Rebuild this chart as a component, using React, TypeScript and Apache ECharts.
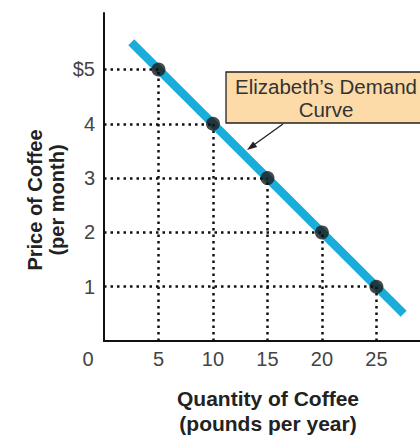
import React, { useEffect, useRef } from "react";
import * as echarts from "echarts";

const quantities = [5, 10, 15, 20, 25];
const prices = [5, 4, 3, 2, 1];
const curveQ = [2.5, 27.5];
const curveP = [5.5, 0.5];
const xTickLabels: Record<number, string> = { 0: "{z|0}", 5: "5", 10: "10", 15: "15", 20: "20", 25: "25" };
const yTickLabels: Record<number, string> = { 1: "1", 2: "2", 3: "3", 4: "4", 5: "$5" };
const xTitle = "Quantity of Coffee\n(pounds per year)";
const yTitle = "Price of Coffee\n(per month)";
const calloutText = "Elizabeth\u2019s Demand\nCurve";

const FONT = '"Liberation Sans", Arial, Helvetica, sans-serif';
const BLUE = "#1AADDA";

export default function App() {
  const ref = useRef<HTMLDivElement>(null);
  useEffect(() => {
    if (!ref.current) return;
    const chart = echarts.init(ref.current, undefined, { renderer: "svg" });
    const guides: any[] = [];
    quantities.forEach((q, i) => {
      const p = prices[i];
      guides.push([{ coord: [0, p] }, { coord: [q, p] }]);
      guides.push([{ coord: [q, 0] }, { coord: [q, p] }]);
    });
    chart.setOption({
      animation: false,
      backgroundColor: "#ffffff",
      grid: { left: 104, right: 0, top: 13, bottom: 94, containLabel: false },
      xAxis: {
        type: "value",
        min: 0,
        max: 29,
        interval: 5,
        axisLine: { show: true, lineStyle: { color: "#111", width: 2 } },
        axisTick: { show: false },
        splitLine: { show: false },
        axisLabel: {
          margin: 8,
          fontSize: 20,
          fontFamily: FONT,
          color: "#444",
          showMaxLabel: false,
          formatter: (v: number) => xTickLabels[v] ?? "",
          rich: { z: { fontSize: 20, fontFamily: FONT, color: "#444", padding: [0, 32, 0, 0] } },
        },
      },
      yAxis: {
        type: "value",
        min: 0,
        max: 6.04,
        interval: 1,
        axisLine: { show: true, lineStyle: { color: "#111", width: 2 } },
        axisTick: { show: false },
        splitLine: { show: false },
        axisLabel: {
          margin: 9,
          fontSize: 20,
          fontFamily: FONT,
          color: "#444",
          showMaxLabel: false,
          formatter: (v: number) => yTickLabels[v] ?? "",
        },
      },
      series: [
        {
          type: "line",
          name: "guides",
          data: [],
          z: 1,
          silent: true,
          markLine: {
            silent: true,
            symbol: ["none", "none"],
            label: { show: false },
            emphasis: { disabled: true },
            lineStyle: { type: [2.5, 4], width: 2.5, color: "#111", cap: "butt" },
            data: guides,
          },
        },
        {
          type: "line",
          name: "Elizabeth's Demand Curve",
          data: curveQ.map((q, i) => [q, curveP[i]]),
          showSymbol: false,
          symbol: "none",
          z: 2,
          silent: true,
          lineStyle: { color: BLUE, width: 8.5, cap: "butt" },
        },
        {
          type: "scatter",
          name: "points",
          data: quantities.map((q, i) => [q, prices[i]]),
          symbolSize: 14,
          z: 4,
          silent: true,
          itemStyle: { color: "#1c1c1c" },
        },
      ],
      graphic: [
        {
          type: "rect",
          shape: { x: 226, y: 72, width: 210, height: 51 },
          style: { fill: "#FCDBA9", stroke: "#222", lineWidth: 1.3 },
          z: 10,
        },
        {
          type: "text",
          x: 326,
          y: 97.5,
          z: 11,
          style: {
            text: calloutText,
            align: "center",
            verticalAlign: "middle",
            fontSize: 20.5,
            fontFamily: FONT,
            lineHeight: 23,
            fill: "#333",
          },
        },
        {
          type: "line",
          shape: { x1: 283, y1: 124, x2: 253, y2: 145.5 },
          style: { stroke: "#222", lineWidth: 1.3 },
          z: 10,
        },
        {
          type: "polygon",
          shape: { points: [[247, 150], [257.2, 147.0], [253.1, 141.4]] },
          style: { fill: "#222" },
          z: 10,
        },
        {
          type: "text",
          x: 268,
          y: 410.5,
          style: {
            text: xTitle,
            align: "center",
            verticalAlign: "middle",
            fontSize: 21,
            fontWeight: "bold",
            fontFamily: FONT,
            lineHeight: 25,
            fill: "#222",
          },
        },
        {
          type: "text",
          x: 46,
          y: 200,
          rotation: Math.PI / 2,
          style: {
            text: yTitle,
            align: "center",
            verticalAlign: "middle",
            fontSize: 20,
            fontWeight: "bold",
            fontFamily: FONT,
            lineHeight: 22,
            fill: "#222",
          },
        },
      ],
    });
    return () => chart.dispose();
  }, []);
  return (
    <div
      ref={ref}
      style={{ position: "fixed", left: 0, top: 0, width: 420, height: 435, background: "#fff" }}
    />
  );
}
